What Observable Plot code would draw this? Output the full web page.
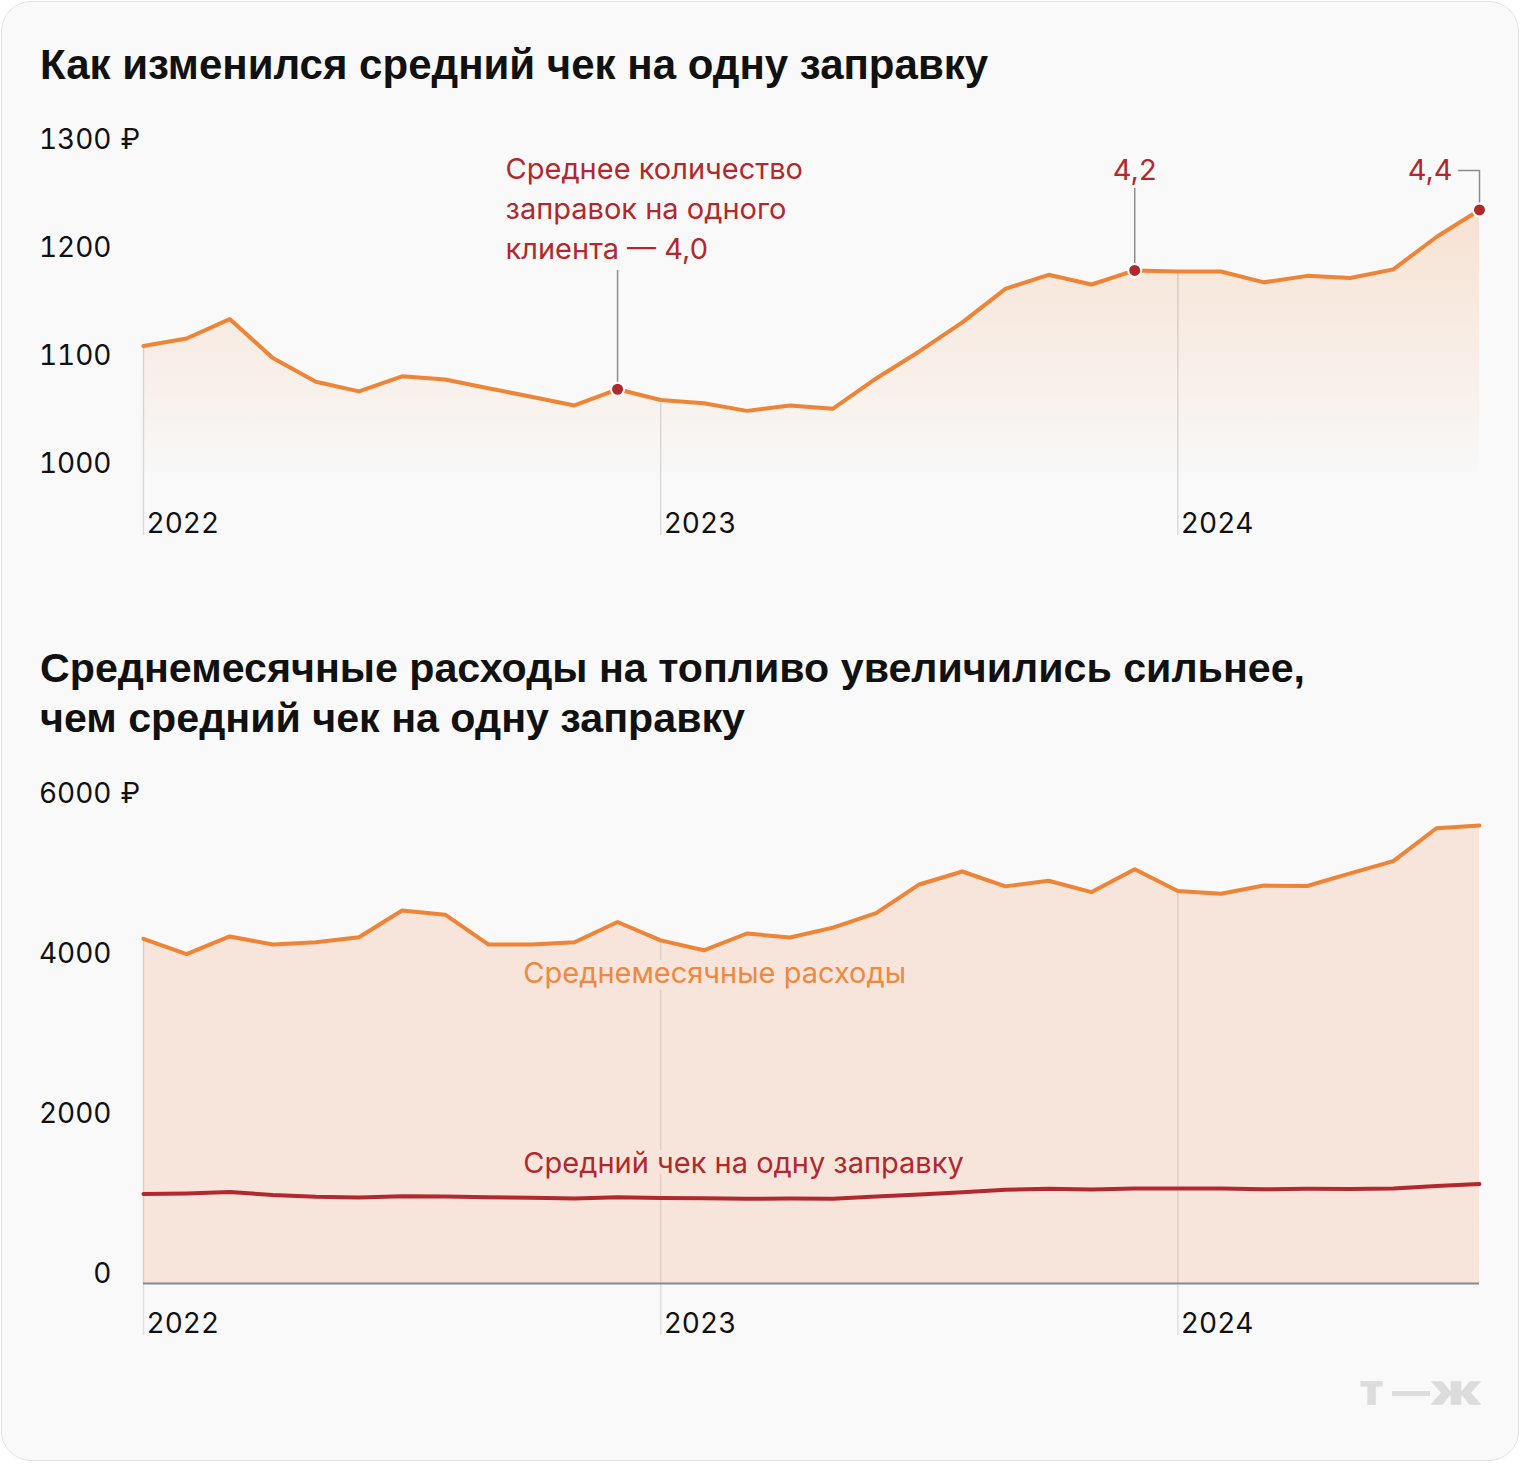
<!DOCTYPE html>
<html>
<head>
<meta charset="utf-8">
<script src="https://cdn.jsdelivr.net/npm/d3@7"></script>
<script src="https://cdn.jsdelivr.net/npm/@observablehq/plot@0.6"></script>
<style>
  html, body { margin: 0; padding: 0; background: #ffffff; }
  #page { position: relative; width: 1520px; height: 1464px; overflow: hidden; font-family: Inter, "Liberation Sans", Arial, sans-serif; }
  #card { position: absolute; left: 1px; top: 1px; width: 1516px; height: 1458px; border: 1px solid #e4e4e4; border-radius: 30px; background: #f9f9f9; }
  .title { position: absolute; left: 40px; font-family: "Liberation Sans", Arial, sans-serif; font-weight: 700; line-height: 50px; color: #111; white-space: nowrap; }
  #chart1 { position: absolute; left: 0; top: 100px; }
  #chart2 { position: absolute; left: 0; top: 760px; }
  #logo { position: absolute; left: 1340px; top: 1360px; overflow: visible; }
</style>
</head>
<body>
<div id="page">
  <div id="card"></div>
  <div class="title" id="t1" style="top:40px; font-size:42px">Как изменился средний чек на одну заправку</div>
  <div class="title" id="t2" style="top:643px; font-size:41.2px">Среднемесячные расходы на топливо увеличились сильнее,<br>чем средний чек на одну заправку</div>
  <div id="chart1"></div>
  <div id="chart2"></div>
  <svg id="logo" width="170" height="70">
    <text x="20" y="44" font-family="Liberation Sans, Arial" font-weight="700" font-size="40" fill="#dcdcdc" stroke="#dcdcdc" stroke-width="1.5" textLength="23" lengthAdjust="spacingAndGlyphs">т</text>
    <rect x="52" y="31" width="38" height="5" fill="#dcdcdc"></rect>
    <text x="93" y="44" font-family="Liberation Sans, Arial" font-weight="700" font-size="40" fill="#dcdcdc" stroke="#dcdcdc" stroke-width="1.5" textLength="46" lengthAdjust="spacingAndGlyphs">ж</text>
  </svg>
</div>
<script>
// ---------- data ----------
const months = ["2022-01","2022-02","2022-03","2022-04","2022-05","2022-06","2022-07","2022-08","2022-09","2022-10","2022-11","2022-12",
                "2023-01","2023-02","2023-03","2023-04","2023-05","2023-06","2023-07","2023-08","2023-09","2023-10","2023-11","2023-12",
                "2024-01","2024-02","2024-03","2024-04","2024-05","2024-06","2024-07","2024-08"];
// Средний чек на одну заправку, ₽
const avgCheck = [1118,1125,1143,1107,1085,1076,1090,1087,1079,1071,1063,1078,
                  1068,1065,1058,1063,1060,1088,1113,1140,1171,1184,1175,1188,
                  1187,1187,1177,1183,1181,1189,1219,1244];
// Среднемесячные расходы на топливо, ₽
const monthlySpend = [4309,4118,4338,4238,4265,4328,4663,4610,4238,4238,4265,4519,
                      4289,4165,4375,4325,4448,4629,4988,5150,4964,5035,4893,5179,
                      4906,4873,4974,4969,5126,5279,5691,5724];
// Среднее количество заправок на одного клиента
const annotMonths = ["2022-12","2023-12","2024-08"];
const annotLabels = ["Среднее количество\nзаправок на одного\nклиента — 4,0", "4,2", "4,4"];
const yearTicks = [2022, 2023, 2024];
const yTicks1 = [1000, 1100, 1200, 1300];
const yTicks2 = [0, 2000, 4000, 6000];
const seriesLabels = ["Среднемесячные расходы", "Средний чек на одну заправку"];

// ---------- derived table ----------
const toX = m => { const [y, mo] = m.split("-").map(Number); return y + (mo - 1) / 12; };
const data = months.map((m, i) => ({month: m, x: toX(m), check: avgCheck[i], spend: monthlySpend[i]}));
const byMonth = new Map(data.map(d => [d.month, d]));
const annots = annotMonths.map((m, i) => ({...byMonth.get(m), label: annotLabels[i]}));
const atYear = y => data.find(d => Math.abs(d.x - y) < 1e-9);

const ORANGE = "#ef8336", RED = "#b2282d", FONT = "Inter, 'Liberation Sans', Arial, sans-serif";
const FS = 29, TFS = 28, TNUM = "tabular-nums";
const xDomain = [toX(months[0]), toX(months[months.length - 1])];
const monthW = 1 / 12;

// ---------- chart 1 ----------
const a0 = annots[0], a1 = annots[1], a2 = annots[2];
const chart1 = Plot.plot({
  width: 1520, height: 460,
  marginLeft: 143, marginRight: 41, marginTop: 49, marginBottom: 87,
  style: {background: "transparent", fontFamily: FONT, fontSize: FS + "px", color: "#111", overflow: "visible"},
  x: {domain: xDomain, axis: null},
  y: {domain: [1000, 1300], axis: null},
  marks: [
    Plot.areaY(data, {x: "x", y1: 1000, y2: "check", fill: "url(#grad1)"}),
    Plot.ruleX(yearTicks, {x: d => d, y1: 942.6, y2: d => atYear(d).check, stroke: "#000", strokeOpacity: 0.12, strokeWidth: 1.5}),
    Plot.ruleX([a0], {x: "x", y1: "check", y2: 1188, stroke: "#8c8c8c", strokeWidth: 1.5}),
    Plot.ruleX([a1], {x: "x", y1: "check", y2: 1264, stroke: "#8c8c8c", strokeWidth: 1.5}),
    Plot.line([[a2.x, a2.check], [a2.x, 1280.6], [a2.x - 0.49 * monthW, 1280.6]], {stroke: "#8c8c8c", strokeWidth: 1.5}),
    Plot.lineY(data, {x: "x", y: "check", stroke: ORANGE, strokeWidth: 4, strokeLinejoin: "miter"}),
    Plot.dot(annots, {x: "x", y: "check", r: 6.5, fill: RED, stroke: "#fff", strokeWidth: 2}),
    Plot.text([a0], {x: "x", text: "label", frameAnchor: "top", lineAnchor: "top", dy: 1, dx: -112, textAnchor: "start", lineHeight: 40/FS, fill: RED, fontSize: FS}),
    Plot.text([a1], {x: "x", text: "label", frameAnchor: "top", lineAnchor: "top", dy: 10, textAnchor: "middle", fill: RED, fontSize: FS}),
    Plot.text([a2], {x: "x", text: "label", frameAnchor: "top", lineAnchor: "top", dy: 10, dx: -27, textAnchor: "end", fill: RED, fontSize: FS}),
    Plot.text(yTicks1, {y: d => d, text: d => String(d), frameAnchor: "left", dx: -32, dy: -9, textAnchor: "end", lineAnchor: "middle", fill: "#111", fontSize: TFS, fontVariant: TNUM}),
    Plot.text([yTicks1[yTicks1.length - 1]], {y: d => d, text: () => "₽", frameAnchor: "left", dx: -23, dy: -9, textAnchor: "start", lineAnchor: "middle", fill: "#111", fontSize: TFS}),
    Plot.text(yearTicks, {x: d => d, text: d => String(d), frameAnchor: "bottom", dy: 51, dx: 3, textAnchor: "start", lineAnchor: "middle", fill: "#111", fontSize: TFS, fontVariant: TNUM})
  ]
});
const ns = "http://www.w3.org/2000/svg";
const defs1 = document.createElementNS(ns, "defs");
defs1.innerHTML = `<linearGradient id="grad1" x1="0" y1="0" x2="0" y2="1">
  <stop offset="0" stop-color="${ORANGE}" stop-opacity="0.2"/>
  <stop offset="1" stop-color="${ORANGE}" stop-opacity="0.01"/>
</linearGradient>`;
chart1.prepend(defs1);
document.getElementById("chart1").append(chart1);

// ---------- chart 2 ----------
const chart2 = Plot.plot({
  width: 1520, height: 600,
  marginLeft: 143, marginRight: 41, marginTop: 43, marginBottom: 77,
  style: {background: "transparent", fontFamily: FONT, fontSize: FS + "px", color: "#111", overflow: "visible"},
  x: {domain: xDomain, axis: null},
  y: {domain: [0, 6000], axis: null},
  marks: [
    Plot.areaY(data, {x: "x", y: "spend", fill: "#f7e5dc"}),
    Plot.ruleX(yearTicks, {x: d => d, y1: -650, y2: d => atYear(d).spend, stroke: "#000", strokeOpacity: 0.1, strokeWidth: 1.5}),
    Plot.ruleY([0], {stroke: "#8a8a8a", strokeWidth: 2}),
    Plot.lineY(data, {x: "x", y: "check", stroke: RED, strokeWidth: 4}),
    Plot.lineY(data, {x: "x", y: "spend", stroke: ORANGE, strokeWidth: 4, strokeLinejoin: "miter"}),
    Plot.text([seriesLabels[0]], {x: () => toX("2022-10"), y: () => 3875, text: d => d, dx: -8, textAnchor: "start", lineAnchor: "middle", fill: "#f0883e", stroke: "#f7e5dc", strokeWidth: 14, fontSize: FS}),
    Plot.text([seriesLabels[1]], {x: () => toX("2022-10"), y: () => 1500, text: d => d, dx: -8, textAnchor: "start", lineAnchor: "middle", fill: RED, stroke: "#f7e5dc", strokeWidth: 14, fontSize: FS}),
    Plot.text(yTicks2, {y: d => d, text: d => String(d), frameAnchor: "left", dx: -32, dy: -9, textAnchor: "end", lineAnchor: "middle", fill: "#111", fontSize: TFS, fontVariant: TNUM}),
    Plot.text([yTicks2[yTicks2.length - 1]], {y: d => d, text: () => "₽", frameAnchor: "left", dx: -23, dy: -9, textAnchor: "start", lineAnchor: "middle", fill: "#111", fontSize: TFS}),
    Plot.text(yearTicks, {x: d => d, text: d => String(d), frameAnchor: "bottom", dy: 41, dx: 3, textAnchor: "start", lineAnchor: "middle", fill: "#111", fontSize: TFS, fontVariant: TNUM})
  ]
});
document.getElementById("chart2").append(chart2);
</script>
</body>
</html>
